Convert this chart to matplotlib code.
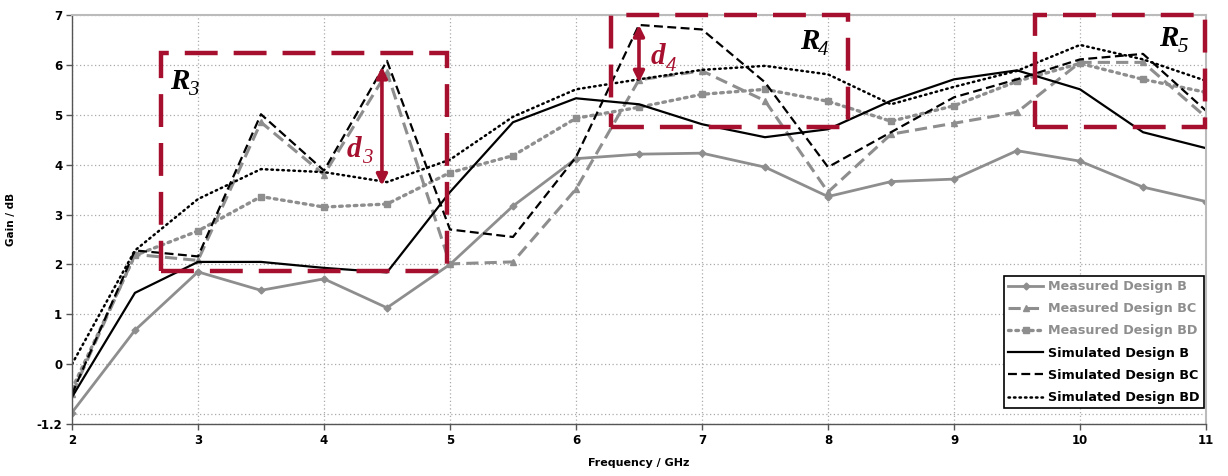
import numpy as np
import matplotlib.pyplot as plt
from matplotlib.patches import Rectangle

plt.rcParams['font.family'] = ['DejaVu Sans']

# frequency points (GHz)
freq = [2, 2.5, 3, 3.5, 4, 4.5, 5, 5.5, 6, 6.5, 7, 7.5, 8, 8.5, 9, 9.5, 10, 10.5, 11]

# gain (dB)
meas_b = [-0.97, 0.68, 1.85, 1.48, 1.71, 1.13, 2.0, 3.17, 4.12, 4.21, 4.23, 3.95, 3.36, 3.66, 3.71, 4.28, 4.07, 3.55, 3.26]
meas_bc = [-0.6, 2.2, 2.08, 4.85, 3.8, 5.85, 2.01, 2.05, 3.51, 5.7, 5.88, 5.28, 3.45, 4.61, 4.83, 5.05, 6.05, 6.05, 4.95]
meas_bd = [-0.5, 2.18, 2.67, 3.36, 3.15, 3.21, 3.84, 4.18, 4.93, 5.15, 5.41, 5.51, 5.27, 4.87, 5.18, 5.67, 6.03, 5.71, 5.45]
sim_b = [-0.66, 1.43, 2.05, 2.05, 1.93, 1.84, 3.45, 4.85, 5.33, 5.21, 4.81, 4.55, 4.71, 5.28, 5.71, 5.89, 5.51, 4.65, 4.33]
sim_bc = [-0.6, 2.28, 2.16, 5.01, 3.88, 6.08, 2.7, 2.55, 4.15, 6.8, 6.71, 5.65, 3.95, 4.65, 5.35, 5.71, 6.11, 6.22, 5.08]
sim_bd = [0.0, 2.28, 3.31, 3.91, 3.85, 3.65, 4.1, 4.96, 5.51, 5.71, 5.9, 5.98, 5.81, 5.21, 5.56, 5.88, 6.4, 6.11, 5.68]

labels = ['Measured Design B', 'Measured Design BC', 'Measured Design BD',
          'Simulated Design B', 'Simulated Design BC', 'Simulated Design BD']

gray = '#8e8e8e'
red = '#A6102E'

fig = plt.figure(figsize=(12.28, 4.76), dpi=100)
ax = fig.add_axes([0.0586, 0.1092, 0.9235, 0.8593])

ax.plot(freq, meas_b, color=gray, lw=2.0, marker='D', ms=3.5, label=labels[0])
ax.plot(freq, meas_bc, color=gray, lw=2.2, ls=(0, (4, 2)), marker='^', ms=5, label=labels[1])
ax.plot(freq, meas_bd, color=gray, lw=2.4, ls=(0, (0.8, 1.4)), marker='s', ms=5,
        dash_capstyle='round', label=labels[2])
ax.plot(freq, sim_b, color='black', lw=1.6, label=labels[3])
ax.plot(freq, sim_bc, color='black', lw=1.6, ls=(0, (4, 2)), label=labels[4])
ax.plot(freq, sim_bd, color='black', lw=1.8, ls=(0, (0.6, 1.6)), dash_capstyle='round', label=labels[5])

ax.set_xlim(2, 11)
ax.set_ylim(-1.2, 7)
ax.set_xticks(range(2, 12))
ax.set_yticks([-1.2, 0, 1, 2, 3, 4, 5, 6, 7])
ax.set_yticklabels(['-1.2', '0', '1', '2', '3', '4', '5', '6', '7'])
ax.set_yticks([-1], minor=True)
ax.tick_params(which='minor', length=0)
ax.tick_params(which='major', length=4, width=1, color='#555555', labelsize=8.5, pad=3)
for t in ax.get_xticklabels() + ax.get_yticklabels():
    t.set_fontweight('bold')
ax.grid(which='both', color='#aaaaaa', ls=(0, (1, 2)), lw=0.9)
ax.set_axisbelow(True)
for s in ['top', 'right']:
    ax.spines[s].set_color('#bbbbbb')
    ax.spines[s].set_linewidth(1.5)
for s in ['left', 'bottom']:
    ax.spines[s].set_color('#555555')
    ax.spines[s].set_linewidth(1.0)

ax.set_xlabel('Frequency / GHz', fontsize=8, fontweight='bold', labelpad=8)
ax.set_ylabel('Gain / dB', fontsize=7.5, fontweight='bold', labelpad=15)

leg = ax.legend(loc='lower right', bbox_to_anchor=(0.9982, 0.038), fontsize=9.2, frameon=True,
                fancybox=False, edgecolor='black', framealpha=1, handlelength=2.7,
                handletextpad=0.4, borderpad=0.35, labelspacing=0.72, borderaxespad=0)
leg.get_frame().set_linewidth(1.2)
for i, t in enumerate(leg.get_texts()):
    t.set_fontweight('bold')
    t.set_color(gray if i < 3 else 'black')

# highlighted regions
box_style = dict(fill=False, edgecolor=red, lw=3.2, ls=(0, (7.4, 3.6)), clip_on=False, zorder=5)
ax.add_patch(Rectangle((2.71, 1.87), 4.98 - 2.71, 6.24 - 1.87, **box_style))
ax.add_patch(Rectangle((6.28, 4.75), 8.16 - 6.28, 7.0 - 4.75, **box_style))
ax.add_patch(Rectangle((9.64, 4.75), 10.99 - 9.64, 7.0 - 4.75, **box_style))


def serif_label(x, y, main, sub, color, dx):
    # bold italic letter with a smaller italic index below its baseline
    ax.annotate(main, (x, y), fontsize=21, family='Liberation Serif', fontweight='bold',
                fontstyle='italic', color=color, zorder=6, annotation_clip=False)
    ax.annotate(sub, (x, y), xytext=(dx, -4.5), textcoords='offset points', fontsize=15,
                family='Liberation Serif', fontstyle='italic', color=color, zorder=6,
                annotation_clip=False)


serif_label(2.78, 5.52, 'R', '3', 'black', 13)
serif_label(7.78, 6.32, 'R', '4', 'black', 13)
serif_label(10.63, 6.38, 'R', '5', 'black', 13)

# gain differences
arrow = dict(arrowstyle='<|-|>', color=red, lw=2.6, mutation_scale=16, shrinkA=0, shrinkB=0)
ax.annotate('', xy=(4.46, sim_bd[5] - 0.07), xytext=(4.46, sim_bc[5] - 0.12), arrowprops=arrow, zorder=6)
ax.annotate('', xy=(6.5, sim_bd[9] - 0.06), xytext=(6.5, sim_bc[9]), arrowprops=arrow, zorder=6)
serif_label(4.18, 4.15, 'd', '3', red, 11)
serif_label(6.59, 6.01, 'd', '4', red, 11)

fig.savefig('out.png', dpi=100)
